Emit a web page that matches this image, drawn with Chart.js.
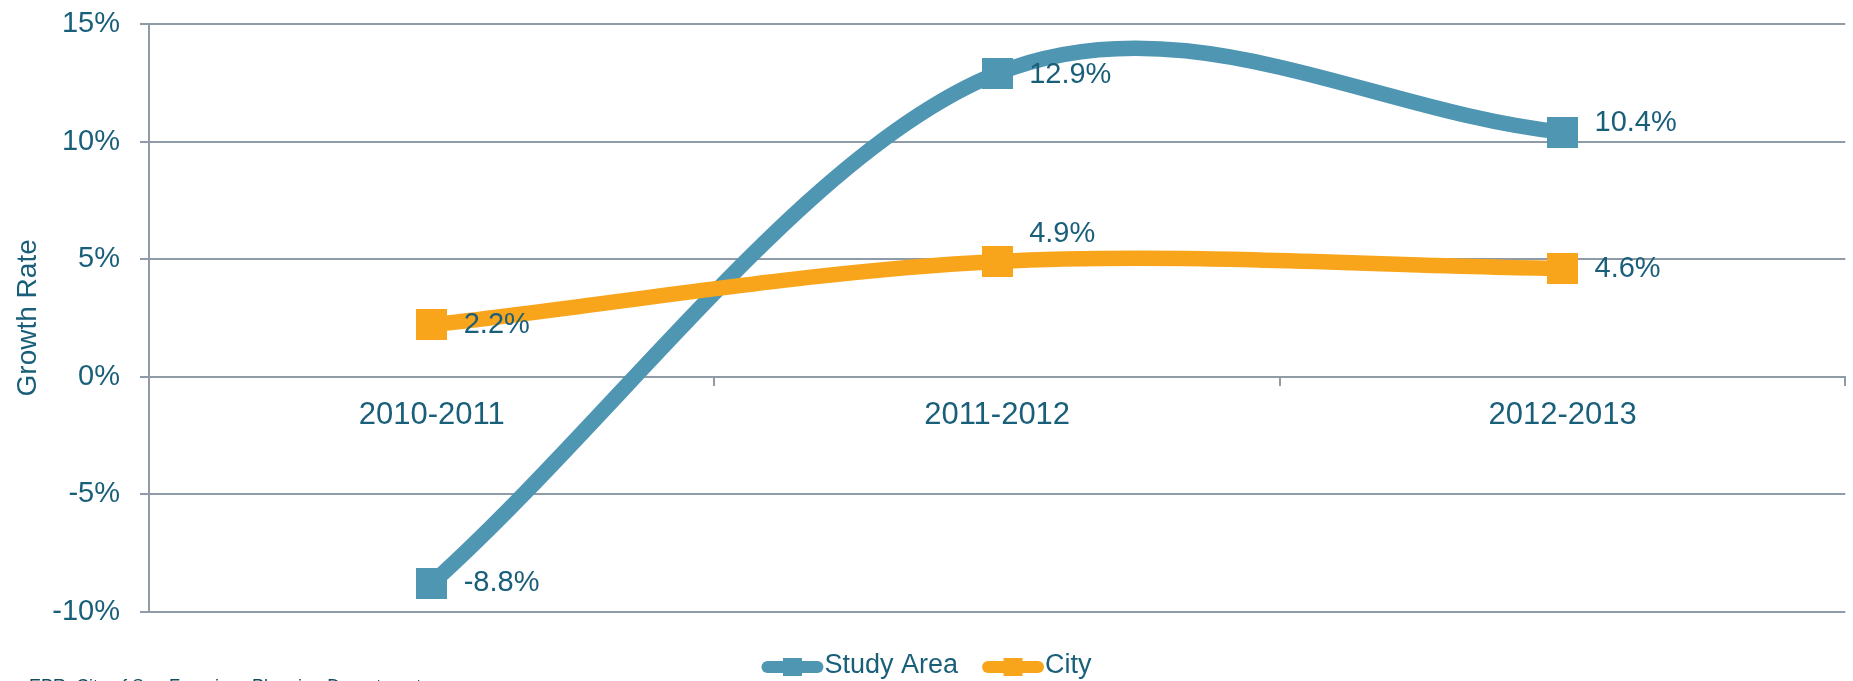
<!DOCTYPE html>
<html>
<head>
<meta charset="utf-8">
<title>Growth Rate</title>
<script src="https://cdn.jsdelivr.net/npm/chart.js@4.4.0/dist/chart.umd.min.js"></script>
<style>
  html, body { margin: 0; padding: 0; background: #fff; overflow: hidden; }
  #wrap { width: 1853px; height: 681px; position: relative; }
</style>
</head>
<body>
<div id="wrap"><canvas id="growthChart"></canvas></div>
<script>
// Data
const periods = ['2010-2011', '2011-2012', '2012-2013'];
const studyArea = [-8.8, 12.9, 10.4];
const city = [2.2, 4.9, 4.6];
const yMin = -10;
const yMax = 15;
const yStep = 5;
const sourceNote = 'EPR; City of San Francisco Planning Department';

const TEXT = '#1a5f7a';
const GRID = '#8f9ba6';
const BLUE = '#4f96b3';
const ORANGE = '#f8a51b';
const FONT = "'Liberation Sans', Arial, sans-serif";

// square marker as a point style image (keeps the layout from reserving a big point overflow)
function squareMarker(color, side) {
    const c = document.createElement('canvas');
    c.width = side;
    c.height = side;
    const g = c.getContext('2d');
    g.fillStyle = color;
    g.fillRect(0, 0, side, side);
    return c;
}

// Catmull-Rom style smoothing (1/6 of the neighbour span, 1/3 at the ends),
// computed from the pixel positions the scales gave each point
const smoothLines = {
    id: 'smoothLines',
    beforeDatasetDraw(chart, args) {
        const pts = args.meta.data;
        pts.forEach((p, i) => {
            const prev = pts[i - 1];
            const next = pts[i + 1];
            if (prev && next) {
                const tx = (next.x - prev.x) / 6;
                const ty = (next.y - prev.y) / 6;
                p.cp1x = p.x - tx; p.cp1y = p.y - ty;
                p.cp2x = p.x + tx; p.cp2y = p.y + ty;
            } else if (next) {
                p.cp1x = p.x; p.cp1y = p.y;
                p.cp2x = p.x + (next.x - p.x) / 3;
                p.cp2y = p.y + (next.y - p.y) / 3;
            } else if (prev) {
                p.cp1x = p.x - (p.x - prev.x) / 3;
                p.cp1y = p.y - (p.y - prev.y) / 3;
                p.cp2x = p.x; p.cp2y = p.y;
            }
        });
        args.meta.dataset._pointsUpdated = true;
    }
};

// value labels next to each marker
const pointLabels = {
    id: 'pointLabels',
    afterDatasetsDraw(chart, args, opts) {
        const ctx = chart.ctx;
        ctx.save();
        ctx.font = `29px ${FONT}`;
        ctx.fillStyle = TEXT;
        ctx.textAlign = 'left';
        ctx.textBaseline = 'middle';
        chart.data.datasets.forEach((ds, i) => {
            const meta = chart.getDatasetMeta(i);
            meta.data.forEach((pt, j) => {
                const dy = opts.nudge[i][j];
                ctx.fillText(ds.data[j].toFixed(1) + '%', pt.x + opts.dx, pt.y + dy);
            });
        });
        ctx.restore();
    }
};

// legend: thick rounded line with a square marker, then the series name
const bottomLegend = {
    id: 'bottomLegend',
    afterDraw(chart, args, opts) {
        const ctx = chart.ctx;
        ctx.save();
        ctx.font = `27px ${FONT}`;
        const items = chart.data.datasets.map(ds => ({
            text: ds.label,
            color: ds.borderColor,
            w: ctx.measureText(ds.label).width
        }));
        const icon = 62, gap = 1, between = 24;
        const total = items.reduce((s, it) => s + icon + gap + it.w, 0) + between * (items.length - 1);
        let x = (chart.width - total) / 2;
        const y = opts.y;
        items.forEach(it => {
            ctx.strokeStyle = it.color;
            ctx.lineWidth = 12;
            ctx.lineCap = 'round';
            ctx.beginPath();
            ctx.moveTo(x + 6, y);
            ctx.lineTo(x + icon - 6, y);
            ctx.stroke();
            ctx.fillStyle = it.color;
            ctx.fillRect(x + icon / 2 - 9.5, y - 9, 19, 18);

            ctx.fillStyle = TEXT;
            ctx.textAlign = 'left';
            ctx.textBaseline = 'middle';
            ctx.fillText(it.text, x + icon + gap, y - 1);
            x += icon + gap + it.w + between;
        });

        // source line along the bottom edge
        ctx.font = `18px ${FONT}`;
        ctx.textBaseline = 'alphabetic';
        ctx.fillStyle = '#134c5e';
        ctx.fillText(sourceNote, 29, 692);
        ctx.restore();
    }
};

new Chart(document.getElementById('growthChart'), {
    type: 'line',
    data: {
        labels: periods,
        datasets: [{
            label: 'Study Area',
            data: studyArea,
            borderColor: BLUE,
            backgroundColor: BLUE,
            borderWidth: 15.5,
            tension: 0.4,
            pointStyle: squareMarker(BLUE, 31),
            pointRadius: 1,
            pointHoverRadius: 1,
            pointBorderWidth: 0,
            order: 2
        }, {
            label: 'City',
            data: city,
            borderColor: ORANGE,
            backgroundColor: ORANGE,
            borderWidth: 15.5,
            tension: 0.4,
            pointStyle: squareMarker(ORANGE, 31),
            pointRadius: 1,
            pointHoverRadius: 1,
            pointBorderWidth: 0,
            order: 1
        }]
    },
    options: {
        responsive: true,
        maintainAspectRatio: false,
        animation: false,
        events: [],
        layout: {
            padding: { left: 0, right: 7.75, top: 24, bottom: 69.3 }
        },
        plugins: {
            legend: { display: false },
            tooltip: { enabled: false },
            pointLabels: {
                dx: 32,
                nudge: [[0, 2, -9.5], [0, -27, 1]]
            },
            bottomLegend: { y: 667 }
        },
        scales: {
            x: {
                type: 'category',
                position: { y: 0 },
                offset: true,
                afterFit(scale) {
                    scale.paddingLeft = 0;
                    scale.paddingRight = 0;
                },
                grid: {
                    display: true,
                    drawOnChartArea: false,
                    drawTicks: true,
                    tickLength: 8,
                    offset: true,
                    color: GRID,
                    lineWidth: 2
                },
                border: { display: true, color: GRID, width: 2 },
                ticks: {
                    color: TEXT,
                    font: { family: FONT, size: 31 },
                    padding: 12
                }
            },
            y: {
                min: yMin,
                max: yMax,
                afterFit(scale) {
                    scale.width = 149;
                    scale.paddingTop = 0;
                    scale.paddingBottom = 0;
                },
                ticks: {
                    stepSize: yStep,
                    color: TEXT,
                    font: { family: FONT, size: 29 },
                    padding: 20,
                    callback: v => v + '%'
                },
                grid: {
                    color: GRID,
                    lineWidth: 2,
                    tickLength: 9
                },
                border: { display: true, color: GRID, width: 2 },
                title: {
                    display: true,
                    text: 'Growth Rate',
                    color: TEXT,
                    font: { family: FONT, size: 28 },
                    padding: { top: 11, bottom: 0 }
                }
            }
        }
    },
    plugins: [smoothLines, pointLabels, bottomLegend]
});
</script>
</body>
</html>
